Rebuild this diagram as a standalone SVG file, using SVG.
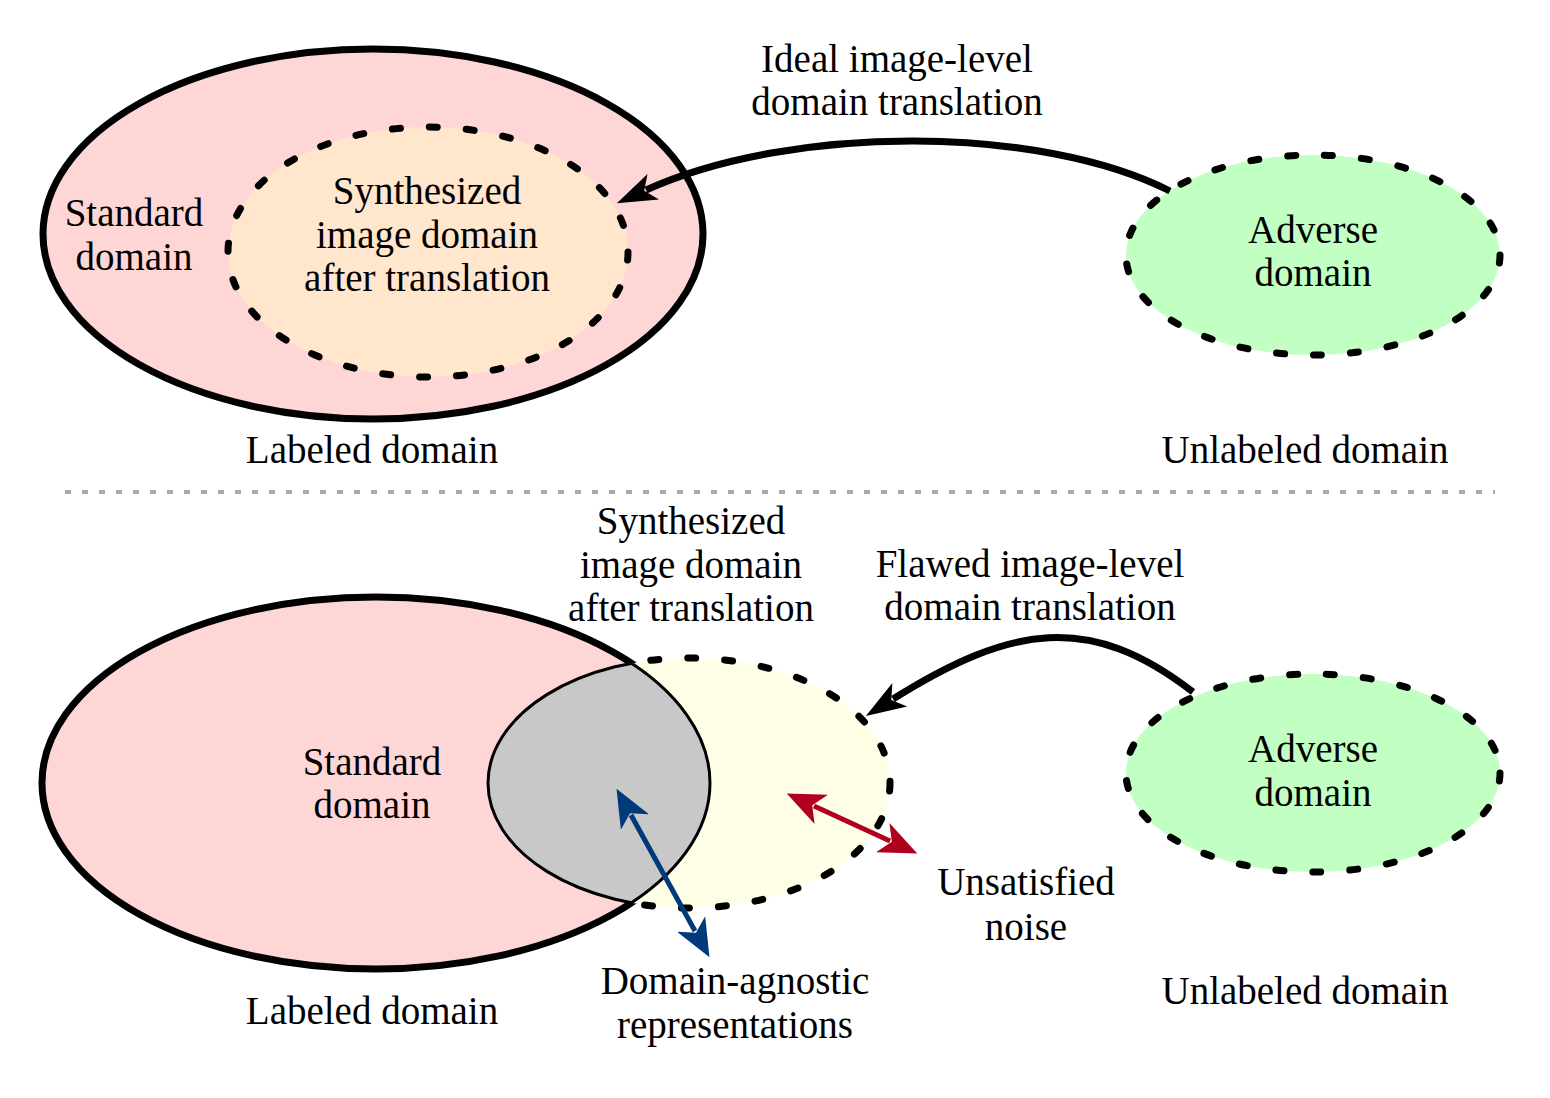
<svg xmlns="http://www.w3.org/2000/svg" width="1550" height="1098" viewBox="0 0 1550 1098">
<style>
text{font-family:"Liberation Serif","Times New Roman",serif;font-size:39px;fill:#000;text-anchor:middle}
.solid{stroke:#000;stroke-width:7}
.dash{fill:none;stroke:#000;stroke-width:7;stroke-dasharray:8 29;stroke-linecap:round}
.pink{fill:#FFD6D6}
.peach{fill:#FFE6CC}
.green{fill:#C2FFC2}
.yellow{fill:#FFFFE8}
.conn{fill:none;stroke:#000;stroke-width:7}
</style>
<defs>
<marker id="ahBlack" viewBox="0 0 40 30" refX="8" refY="15" markerWidth="40" markerHeight="30" markerUnits="userSpaceOnUse" orient="auto">
<path d="M40,15 L0,1 L10,15 L0,29 Z" fill="#000"/>
</marker>
<marker id="ahBlue" viewBox="0 0 38 32" refX="8" refY="16" markerWidth="38" markerHeight="32" markerUnits="userSpaceOnUse" orient="auto-start-reverse">
<path d="M38,16 L0,0 L10,16 L0,32 Z" fill="#003A7A"/>
</marker>
<marker id="ahRed" viewBox="0 0 38 32" refX="8" refY="16" markerWidth="38" markerHeight="32" markerUnits="userSpaceOnUse" orient="auto-start-reverse">
<path d="M38,16 L0,0 L10,16 L0,32 Z" fill="#B0001E"/>
</marker>
<clipPath id="clipYellow"><ellipse cx="689" cy="783" rx="201" ry="125"/></clipPath>
<clipPath id="clipPink"><ellipse cx="376" cy="783" rx="334" ry="186"/></clipPath>
<mask id="outsidePink" maskUnits="userSpaceOnUse" x="0" y="0" width="1550" height="1098">
<rect x="0" y="0" width="1550" height="1098" fill="#fff"/>
<ellipse cx="376" cy="783" rx="334" ry="186" fill="#000"/>
</mask>
</defs>
<rect x="0" y="0" width="1550" height="1098" fill="#fff"/>

<!-- TOP PANEL -->
<g id="top-labeled">
<ellipse cx="373" cy="234" rx="330" ry="185" class="pink solid"/>
<text x="134" y="226">Standard</text>
<text x="134" y="270">domain</text>
</g>
<g id="top-synth">
<ellipse cx="428" cy="252" rx="200" ry="125" class="peach"/>
<ellipse cx="428" cy="252" rx="200" ry="125" class="dash"/>
<text x="427" y="204">Synthesized</text>
<text x="427" y="248">image domain</text>
<text x="427" y="291">after translation</text>
</g>
<g id="top-adverse">
<ellipse cx="1313" cy="255" rx="187" ry="100" class="green"/>
<ellipse cx="1313" cy="255" rx="187" ry="100" class="dash"/>
<text x="1313" y="243">Adverse</text>
<text x="1313" y="286">domain</text>
</g>
<g id="top-labels">
<text x="897" y="72">Ideal image-level</text>
<text x="897" y="115">domain translation</text>
<text x="372" y="463">Labeled domain</text>
<text x="1305" y="463">Unlabeled domain</text>
</g>

<line x1="65" y1="492" x2="1495" y2="492" stroke="#AAAAAA" stroke-width="4" stroke-dasharray="6 11"/>

<!-- BOTTOM PANEL -->
<g id="bottom-labeled">
<ellipse cx="376" cy="783" rx="334" ry="186" class="pink solid"/>
</g>
<g id="bottom-synth">
<ellipse cx="689" cy="783" rx="201" ry="125" class="yellow"/>
<g mask="url(#outsidePink)">
<ellipse cx="689" cy="783" rx="201" ry="125" class="dash"/>
</g>
</g>
<g id="bottom-intersection">
<g clip-path="url(#clipYellow)">
<ellipse cx="376" cy="783" rx="334" ry="186" fill="#C8C8C8" stroke="#000" stroke-width="3"/>
</g>
<g clip-path="url(#clipPink)">
<ellipse cx="689" cy="783" rx="201" ry="125" fill="none" stroke="#000" stroke-width="3"/>
</g>
</g>
<g id="bottom-adverse">
<ellipse cx="1313" cy="773" rx="187" ry="99" class="green"/>
<ellipse cx="1313" cy="773" rx="187" ry="99" class="dash"/>
<text x="1313" y="762">Adverse</text>
<text x="1313" y="806">domain</text>
</g>
<g id="bottom-labels">
<text x="372" y="775">Standard</text>
<text x="372" y="818">domain</text>
<text x="691" y="534">Synthesized</text>
<text x="691" y="578">image domain</text>
<text x="691" y="621">after translation</text>
<text x="1030" y="577">Flawed image-level</text>
<text x="1030" y="620">domain translation</text>
<text x="1026" y="895">Unsatisfied</text>
<text x="1026" y="940">noise</text>
<text x="735" y="994">Domain-agnostic</text>
<text x="735" y="1038">representations</text>
<text x="372" y="1024">Labeled domain</text>
<text x="1305" y="1004">Unlabeled domain</text>
</g>

<g id="connectors">
<path d="M1170,191 C1040,125 792,124 646,190" class="conn" marker-end="url(#ahBlack)"/>
<path d="M1193,692 C1090,612 1011,625 893,699" class="conn" marker-end="url(#ahBlack)"/>
<path d="M631,815 L695,931" fill="none" stroke="#003A7A" stroke-width="5" marker-start="url(#ahBlue)" marker-end="url(#ahBlue)"/>
<path d="M814,806 L890,841" fill="none" stroke="#B0001E" stroke-width="5" marker-start="url(#ahRed)" marker-end="url(#ahRed)"/>
</g>
</svg>
